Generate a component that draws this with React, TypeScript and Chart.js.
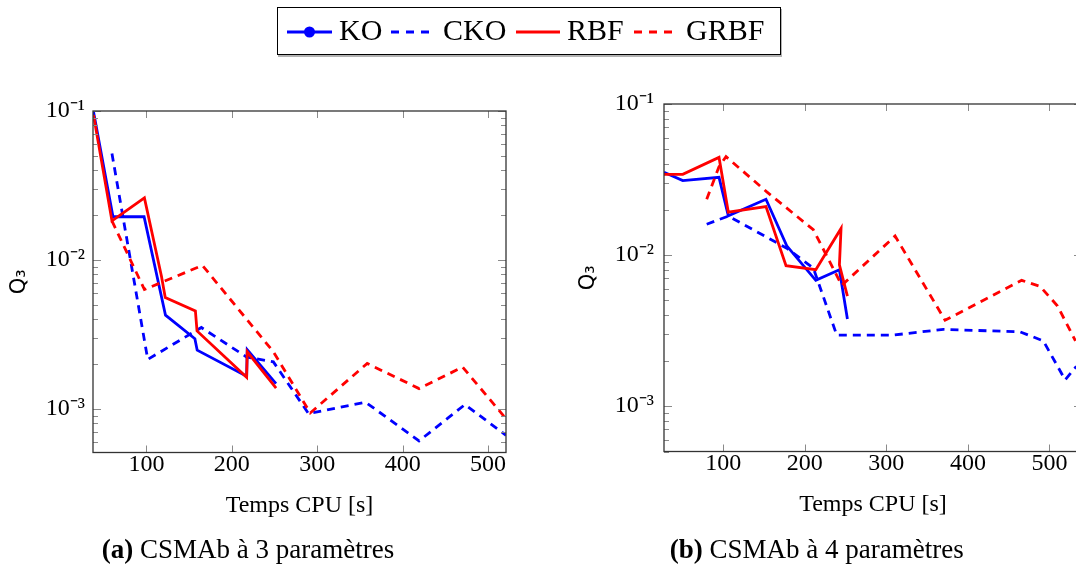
import React, { useEffect, useRef } from 'react';
import { Chart, registerables } from 'chart.js';

Chart.register(...registerables);

// ---------- data ----------
// (a) CSMAb à 3 paramètres
const KO_A_T = [38, 60.8, 97.2, 122.3, 156.7, 159.4, 217.3, 218, 251.7];
const KO_A_Q = [0.099, 0.0195, 0.0195, 0.00426, 0.00296, 0.00248, 0.00166, 0.0025, 0.00148];
const CKO_A_T = [59.6, 101.5, 164.3, 217.3, 248.6, 289.8, 356.5, 419.2, 473, 521];
const CKO_A_Q = [0.0518, 0.00215, 0.00352, 0.00223, 0.00207, 0.00093, 0.00111, 0.00061, 0.00107, 0.000665];
const RBF_A_T = [38, 59.6, 97.6, 117.5, 122, 157.3, 159.2, 217.3, 218, 251.8];
const RBF_A_Q = [0.094, 0.0183, 0.0261, 0.0078, 0.0056, 0.00455, 0.00334, 0.00163, 0.00242, 0.00138];
const GRBF_A_T = [59.6, 97.6, 165.5, 248.6, 291.8, 358.5, 419.2, 470.2, 521];
const GRBF_A_Q = [0.0183, 0.00633, 0.0092, 0.00242, 0.00094, 0.00202, 0.00137, 0.00191, 0.00086];

// (b) CSMAb à 4 paramètres
const KO_B_T = [27.2, 50.2, 94.7, 106.1, 152.3, 177.8, 213.4, 242.4, 252.2];
const KO_B_Q = [0.0353, 0.0311, 0.0327, 0.0182, 0.0234, 0.0115, 0.0068, 0.008, 0.00377];
const CKO_B_T = [79.6, 106.1, 177.8, 210.4, 239.1, 308.6, 370, 464, 492.6, 519.3, 533];
const CKO_B_Q = [0.016, 0.0181, 0.0111, 0.0082, 0.00295, 0.00295, 0.00322, 0.0031, 0.0027, 0.00149, 0.00183];
const RBF_B_T = [27.2, 50.2, 94.7, 106.1, 152.3, 176.9, 213.4, 244.4, 242.4, 252.2];
const RBF_B_Q = [0.0342, 0.0342, 0.0443, 0.0192, 0.0209, 0.0085, 0.008, 0.015, 0.0086, 0.00535];
const GRBF_B_T = [79.6, 94.7, 103.3, 153.3, 210.4, 245.3, 310.7, 372, 466, 488.6, 510, 532];
const GRBF_B_Q = [0.0234, 0.0385, 0.0448, 0.0262, 0.0147, 0.0063, 0.01336, 0.0037, 0.0068, 0.0062, 0.0046, 0.0027];

// ---------- ticks / labels ----------
const X_TICKS = [100, 200, 300, 400, 500];
const Y_TICKS = [1e-3, 1e-2, 1e-1];
const SERIES_NAMES = ['KO', 'CKO', 'RBF', 'GRBF'];
const X_TITLE = 'Temps CPU [s]';
const Y_TITLE = 'Q₃';
const CAPTION_A = ['(a)', ' CSMAb à 3 paramètres'];
const CAPTION_B = ['(b)', ' CSMAb à 4 paramètres'];

const BLUE = '#0000ff';
const RED = '#ff0000';
const SERIF = '"Liberation Serif", "Times New Roman", serif';
const SANS = '"DejaVu Sans", "Liberation Sans", sans-serif';
const DASH = [8, 6];

const SUP: Record<string, string> = { '-': '⁻', '0': '⁰', '1': '¹', '2': '²', '3': '³', '4': '⁴' };
const powLabel = (v: number) => {
  const e = Math.round(Math.log10(v));
  return '10' + String(e).split('').map((c) => SUP[c] || c).join('');
};

const pts = (t: number[], q: number[]) => t.map((x, i) => ({ x, y: q[i] }));

const framePlugin = {
  id: 'frame',
  afterDatasetsDraw(chart: any) {
    const { ctx, chartArea: a, scales } = chart;
    const xs = scales.x;
    const ys = scales.y;
    ctx.save();
    ctx.strokeStyle = '#8a8a8a';
    ctx.lineWidth = 1;
    ctx.beginPath();
    for (const v of X_TICKS) {
      const p = Math.round(xs.getPixelForValue(v)) + 0.5;
      ctx.moveTo(p, a.bottom);
      ctx.lineTo(p, a.bottom - 7);
      ctx.moveTo(p, a.top);
      ctx.lineTo(p, a.top + 7);
    }
    for (let e = -4; e <= -1; e++) {
      for (let m = 1; m <= 9; m++) {
        const v = m * Math.pow(10, e);
        if (v < ys.min * 0.999 || v > ys.max * 1.001) continue;
        const p = Math.round(ys.getPixelForValue(v)) + 0.5;
        const len = m === 1 ? 8 : 5;
        ctx.moveTo(a.left, p);
        ctx.lineTo(a.left + len, p);
        ctx.moveTo(a.right, p);
        ctx.lineTo(a.right - len, p);
      }
    }
    ctx.stroke();
    ctx.strokeStyle = '#333333';
    ctx.lineWidth = 1.3;
    ctx.strokeRect(a.left, a.top, a.right - a.left, a.bottom - a.top);
    ctx.restore();
  },
};

type PanelSpec = {
  ko: { x: number; y: number }[];
  cko: { x: number; y: number }[];
  rbf: { x: number; y: number }[];
  grbf: { x: number; y: number }[];
  xMin: number;
  xMax: number;
  yMin: number;
  yMax: number;
  yAxisWidth: number;
  yTitlePad: number;
  yTickPad: number;
  padding: { top: number; right: number; bottom: number; left: number };
};

function makeConfig(p: PanelSpec): any {
  const line = (label: string, data: any[], color: string, dashed: boolean, order: number) => ({
    label,
    data,
    borderColor: color,
    backgroundColor: color,
    borderWidth: 2.8,
    borderDash: dashed ? DASH : [],
    pointRadius: 0,
    pointHoverRadius: 0,
    tension: 0,
    fill: false,
    order,
  });
  return {
    type: 'line',
    data: {
      datasets: [
        line(SERIES_NAMES[0], p.ko, BLUE, false, 4),
        line(SERIES_NAMES[1], p.cko, BLUE, true, 3),
        line(SERIES_NAMES[2], p.rbf, RED, false, 2),
        line(SERIES_NAMES[3], p.grbf, RED, true, 1),
      ],
    },
    options: {
      animation: false,
      responsive: false,
      devicePixelRatio: 1,
      events: [],
      layout: { padding: p.padding },
      plugins: { legend: { display: false }, tooltip: { enabled: false } },
      scales: {
        x: {
          type: 'linear',
          min: p.xMin,
          max: p.xMax,
          grid: { display: false, drawTicks: false, tickLength: 0 },
          border: { display: false },
          ticks: {
            autoSkip: false,
            maxRotation: 0,
            padding: 0,
            color: '#000',
            font: { family: SERIF, size: 24, lineHeight: 1 },
          },
          afterBuildTicks: (s: any) => {
            s.ticks = X_TICKS.map((v) => ({ value: v }));
          },
          afterFit: (s: any) => {
            s.height = 68;
          },
          title: {
            display: true,
            text: X_TITLE,
            color: '#000',
            font: { family: SERIF, size: 24 },
            padding: { top: 0, bottom: 0 },
          },
        },
        y: {
          type: 'logarithmic',
          min: p.yMin,
          max: p.yMax,
          grid: { display: false, drawTicks: false, tickLength: 0 },
          border: { display: false },
          ticks: {
            autoSkip: false,
            padding: p.yTickPad,
            color: '#000',
            font: { family: SERIF, size: 24 },
            callback: (v: any) => powLabel(Number(v)),
          },
          afterBuildTicks: (s: any) => {
            s.ticks = Y_TICKS.map((v) => ({ value: v }));
          },
          afterFit: (s: any) => {
            s.width = p.yAxisWidth;
          },
          title: {
            display: true,
            text: Y_TITLE,
            color: '#000',
            font: { family: SANS, size: 21 },
            padding: { top: p.yTitlePad, bottom: 0 },
          },
        },
      },
    },
    plugins: [framePlugin],
  };
}

function Panel({ left, width, spec }: { left: number; width: number; spec: PanelSpec }) {
  const ref = useRef<HTMLCanvasElement>(null);
  useEffect(() => {
    const chart = new Chart(ref.current as HTMLCanvasElement, makeConfig(spec));
    return () => chart.destroy();
  }, []);
  return (
    <canvas
      ref={ref}
      width={width}
      height={565}
      style={{ position: 'absolute', left, top: 0, width, height: 565 }}
    />
  );
}

const specA: PanelSpec = {
  ko: pts(KO_A_T, KO_A_Q),
  cko: pts(CKO_A_T, CKO_A_Q),
  rbf: pts(RBF_A_T, RBF_A_Q),
  grbf: pts(GRBF_A_T, GRBF_A_Q),
  xMin: 37.4,
  xMax: 521,
  yMin: 5.1e-4,
  yMax: 0.1,
  yAxisWidth: 93,
  yTitlePad: 7,
  yTickPad: 8,
  padding: { top: 111, right: 54, bottom: 565 - 452.5 - 68, left: 0 },
};

const specB: PanelSpec = {
  ko: pts(KO_B_T, KO_B_Q),
  cko: pts(CKO_B_T, CKO_B_Q),
  rbf: pts(RBF_B_T, RBF_B_Q),
  grbf: pts(GRBF_B_T, GRBF_B_Q),
  xMin: 27.2,
  xMax: 540,
  yMin: 5e-4,
  yMax: 0.1,
  yAxisWidth: 104,
  yTitlePad: 16,
  yTickPad: 10,
  padding: { top: 104, right: 18, bottom: 565 - 451.5 - 68, left: 0 },
};

function LegendLine({ left, width, color, dashed, marker }: any) {
  return (
    <svg
      width={width}
      height={16}
      style={{ position: 'absolute', left, top: 31.5 - 8 }}
    >
      <line
        x1={0}
        y1={8}
        x2={width}
        y2={8}
        stroke={color}
        strokeWidth={3}
        strokeDasharray={dashed ? '8 7' : undefined}
      />
      {marker ? <circle cx={width / 2} cy={8} r={5.5} fill={color} /> : null}
    </svg>
  );
}

function LegendText({ left, text }: { left: number; text: string }) {
  return (
    <span
      style={{
        position: 'absolute',
        left,
        top: 15,
        fontFamily: SERIF,
        fontSize: 30,
        lineHeight: '30px',
        whiteSpace: 'nowrap',
        color: '#000',
      }}
    >
      {text}
    </span>
  );
}

function Caption({ center, parts }: { center: number; parts: string[] }) {
  return (
    <div
      style={{
        position: 'absolute',
        left: center - 250,
        width: 500,
        top: 535.5,
        textAlign: 'center',
        fontFamily: SERIF,
        fontSize: 27,
        lineHeight: '27px',
        whiteSpace: 'pre',
        color: '#000',
      }}
    >
      <b>{parts[0]}</b>
      {parts[1]}
    </div>
  );
}

export default function App() {
  return (
    <div
      style={{
        position: 'fixed',
        left: 0,
        top: 0,
        width: 1076,
        height: 565,
        overflow: 'hidden',
        background: '#fff',
      }}
    >
      <Panel left={0} width={560} spec={specA} />
      <Panel left={560} width={540} spec={specB} />
      <div
        style={{
          position: 'absolute',
          left: 277,
          top: 7,
          width: 504,
          height: 48,
          boxSizing: 'border-box',
          border: '1px solid #000',
          boxShadow: '1px 2px 0 rgba(0,0,0,0.3)',
          background: '#fff',
        }}
      />
      <LegendLine left={287} width={45} color={BLUE} dashed={false} marker />
      <LegendText left={339} text={SERIES_NAMES[0]} />
      <LegendLine left={391} width={38} color={BLUE} dashed />
      <LegendText left={443} text={SERIES_NAMES[1]} />
      <LegendLine left={516} width={44} color={RED} dashed={false} />
      <LegendText left={567} text={SERIES_NAMES[2]} />
      <LegendLine left={634} width={38} color={RED} dashed />
      <LegendText left={686} text={SERIES_NAMES[3]} />
      <Caption center={248} parts={CAPTION_A} />
      <Caption center={816.7} parts={CAPTION_B} />
    </div>
  );
}
